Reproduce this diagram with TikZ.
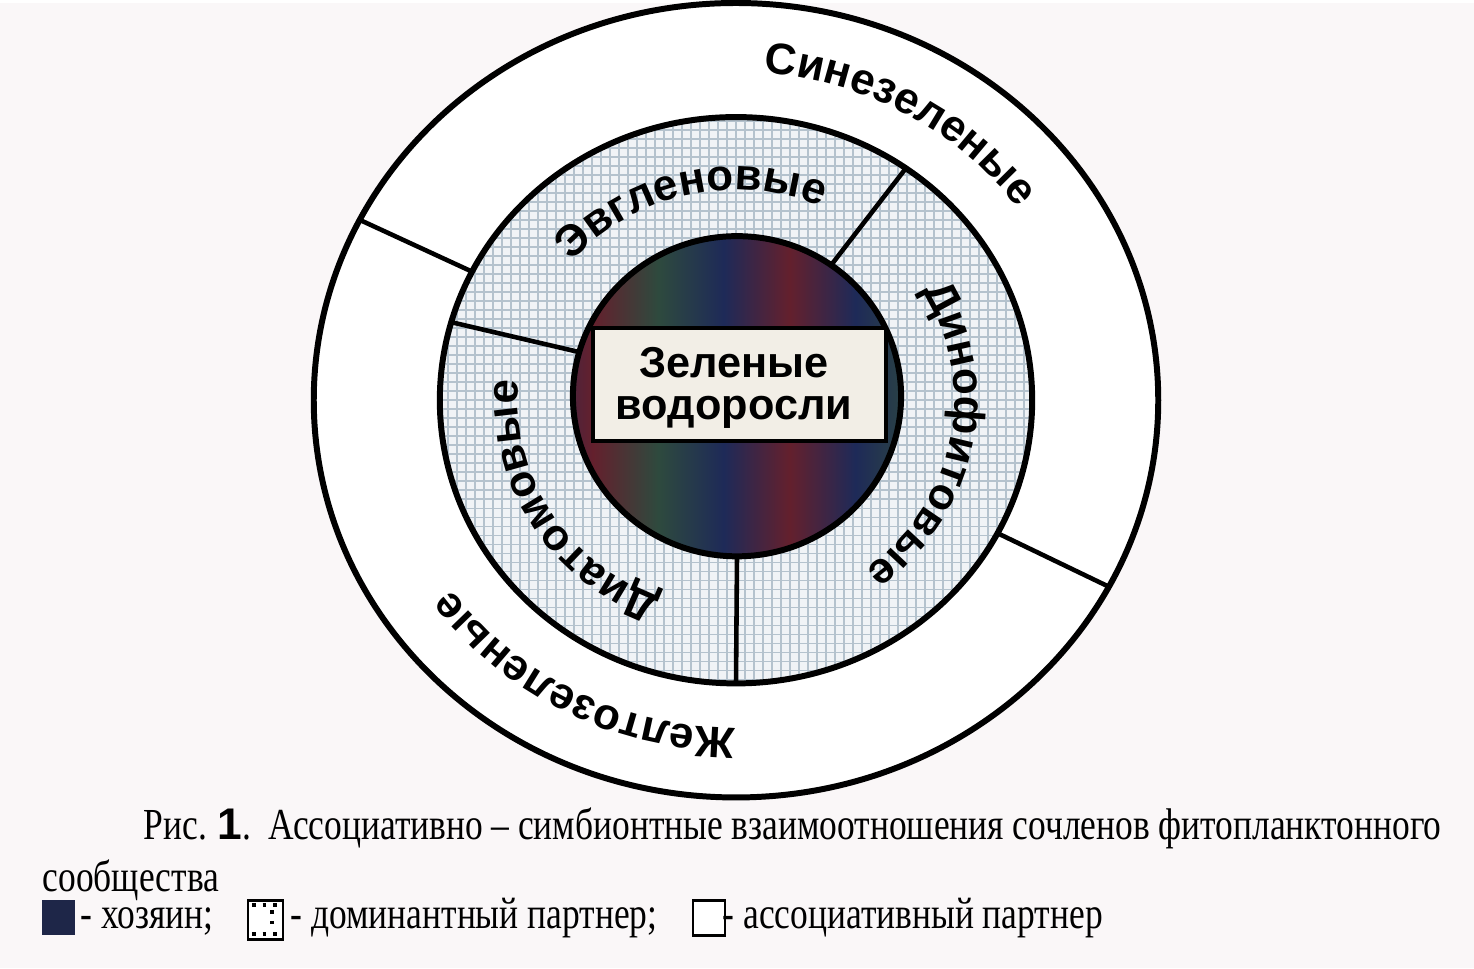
\documentclass[tikz,border=0pt]{standalone}
\usepackage{fontspec}
\setmainfont{Liberation Serif}
\newfontfamily\lblfont{Liberation Sans}
\newfontfamily\capfont[FakeStretch=0.8]{Liberation Serif}
\usetikzlibrary{decorations.text,calc}
\definecolor{paper}{RGB}{250,247,248}
\definecolor{hostred}{RGB}{100,32,45}
\definecolor{hostblue}{RGB}{30,42,88}
\definecolor{hostgreen}{RGB}{46,74,62}
\definecolor{hostkey}{RGB}{30,38,72}
\definecolor{gridfill}{RGB}{240,243,246}
\definecolor{gridline}{RGB}{180,194,205}
\definecolor{boxfill}{RGB}{242,238,230}
\pgfdeclarehorizontalshading{hoststripes}{100bp}{color(0bp)=(hostred); color(9bp)=(hostred); color(18bp)=(hostblue); color(28bp)=(hostred); color(38bp)=(hostgreen); color(48bp)=(hostblue); color(58bp)=(hostred); color(68bp)=(hostblue); color(78bp)=(hostgreen); color(88bp)=(hostred); color(100bp)=(hostblue)}
\tikzset{
  ring/.style={line width=1.7pt},
  divider/.style={line width=1.3pt},
  lbl/.style={decorate, decoration={text along path, text align=center,
    text={|\lblfont\bfseries\fontsize{12.5}{15}\selectfont|#1}}},
  keytext/.style={anchor=base west, inner sep=0pt, font=\capfont\fontsize{12.6}{15}\selectfont}
}
\begin{document}
\begin{tikzpicture}[x=0.01cm, y=0.01cm]
	\fill[paper] (-736,-568) rectangle (738,397);
	\draw[ring, fill=white] (0,0) ellipse [x radius=4.22cm, y radius=3.97cm];
	\begin{scope}
		\clip (0,0) ellipse [x radius=2.96cm, y radius=2.83cm];
		\fill[gridfill] (-300,-290) rectangle (300,290);
		\draw[gridline, line width=0.45pt, step=0.09cm] (-300,-290) grid (300,290);
	\end{scope}
	\draw[ring] (0,0) ellipse [x radius=2.96cm, y radius=2.83cm];
	\shade[shading=hoststripes] (1,4) ellipse [x radius=1.64cm, y radius=1.60cm];
	\draw[ring] (1,4) ellipse [x radius=1.64cm, y radius=1.60cm];
	\draw[line width=1pt, fill=boxfill] (-143,-41) rectangle (150,72);
	\node[align=center, font=\lblfont\bfseries\fontsize{12.3}{12}\selectfont] (host) at (-2,12) {Зеленые\\водоросли};
	% dividers
	\draw[divider] (153:2.96cm and 2.83cm) -- (153:4.22cm and 3.97cm);
	\draw[divider] (-28:2.96cm and 2.83cm) -- (-28:4.22cm and 3.97cm);
	\draw[divider] ($(1,4)+(55:1.64cm and 1.60cm)$) -- (55:2.96cm and 2.83cm);
	\draw[divider] ($(1,4)+(164:1.64cm and 1.60cm)$) -- (164:2.96cm and 2.83cm);
	\draw[divider] ($(1,4)+(270:1.64cm and 1.60cm)$) -- (270:2.96cm and 2.83cm);
	% ring labels
	\path[lbl={Синезеленые}] (110:3.47cm and 3.28cm) arc [start angle=110, end angle=10, x radius=3.47cm, y radius=3.28cm];
	\path[lbl={Желтозеленые}] (292:3.47cm and 3.28cm) arc [start angle=292, end angle=192, x radius=3.47cm, y radius=3.28cm];
	\path[lbl={Эвгленовые}] (153:2.18cm and 2.10cm) arc [start angle=153, end angle=53, x radius=2.18cm, y radius=2.10cm];
	\path[lbl={Динофитовые}] (39:2.18cm and 2.10cm) arc [start angle=39, end angle=-61, x radius=2.18cm, y radius=2.10cm];
	\path[lbl={Диатомовые}] (262:2.18cm and 2.10cm) arc [start angle=262, end angle=162, x radius=2.18cm, y radius=2.10cm];
	% caption and key
	\node[keytext] (caption) at (-593,-439) {\makebox[12.97cm][s]{Рис.\kern3pt{\lblfont\bfseries 1}.\ \ Ассоциативно – симбионтные взаимоотношения сочленов фитопланктонного}};
	\node[keytext] (caption2) at (-694,-491) {сообщества};
	\fill[hostkey] (-694,-500) rectangle (-661,-535);
	\node[keytext] (hosttext) at (-656,-528) {- хозяин;};
	\draw[line width=0.8pt, fill=white] (-488,-500) rectangle (-453,-539);
	\draw[dotted, line width=1pt] (-484,-505) -- (-457,-505);
	\draw[dotted, line width=1pt] (-464,-510) -- (-464,-530);
	\draw[dotted, line width=1pt] (-484,-534) -- (-457,-534);
	\node[keytext] (domtext) at (-446,-528) {- доминантный партнер;};
	\draw[line width=0.8pt, fill=white] (-43,-500) rectangle (-11,-535);
	\node[keytext] (assoctext) at (-14,-528) {- ассоциативный партнер};
\end{tikzpicture}
\end{document}
